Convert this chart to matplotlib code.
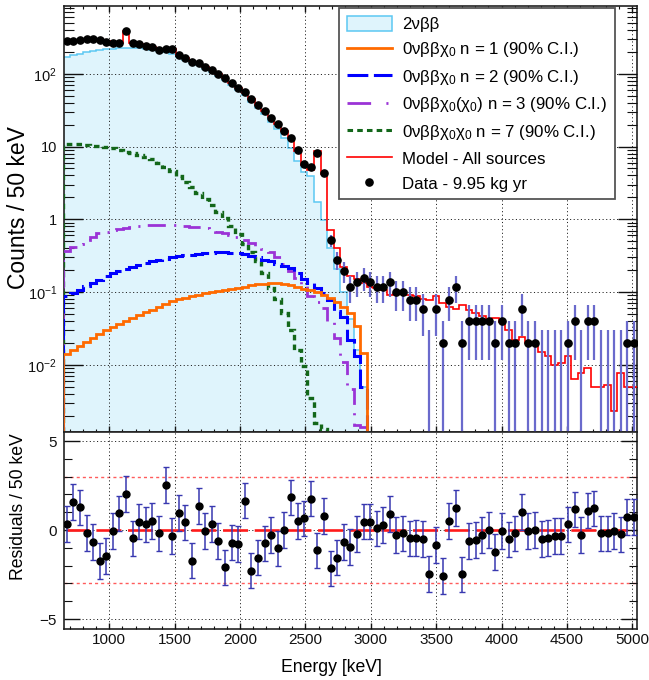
import numpy as np
import matplotlib
matplotlib.use('Agg')
import matplotlib.pyplot as plt
from matplotlib.ticker import FixedLocator, MultipleLocator, NullFormatter, FuncFormatter
from matplotlib.lines import Line2D
from matplotlib.patches import Patch

plt.rcParams['font.family'] = ['Liberation Sans', 'DejaVu Sans']
plt.rcParams['mathtext.fontset'] = 'custom'
plt.rcParams['mathtext.rm'] = 'Liberation Sans'
plt.rcParams['mathtext.it'] = 'Liberation Sans:italic'
plt.rcParams['lines.scale_dashes'] = False

# ---------------- binning ----------------
bin_lo, bin_width, n_bins = 648.6, 50.45, 87
edges = bin_lo + bin_width * np.arange(n_bins + 1)
centers = 0.5 * (edges[:-1] + edges[1:])

count_unit = 0.0197      # value of one event in "Counts / 50 keV"
zero_upper = 0.030       # upper error drawn for empty bins

# ---------------- data ----------------
data_vals = [282, 285, 292, 301, 298, 292, 276, 267, 267, 388,
             262, 254, 241, 236, 210, 219, 219, 181, 163, 147,
             139, 125, 113, 99, 87, 75, 63, 55.7, 44.6, 37.3,
             31.1, 24.9, 20.2, 16.5, 13.0, 8.97, 5.76, 5.29, 8.23, 4.37,
             0.512, 0.276, 0.197, 0.118, 0.138, 0.158, 0.138, 0.118, 0.118, 0.138,
             0.0985, 0.0985, 0.0788, 0.0788, 0.0591, 0.0, 0.0591, 0.0197, 0.0788, 0.118,
             0.0197, 0.0394, 0.0394, 0.0394, 0.0394, 0.0197, 0.0394, 0.0197, 0.0197, 0.0591,
             0.0197, 0.0197, 0.0, 0.0, 0.0, 0.0, 0.0197, 0.0394, 0.0, 0.0394,
             0.0394, 0.0, 0.0, 0.0, 0.0, 0.0197, 0.0197]

model_vals = [281, 284, 291, 300, 299, 295, 278, 268, 266, 384,
              263, 253, 240, 235, 210, 214, 220, 181, 163, 148,
              138, 125, 113, 99.5, 86.5, 75.5, 63.5, 55.3, 45.0, 37.5,
              31.2, 25.1, 20.3, 16.3, 12.9, 8.75, 5.54, 4.72, 8.69, 4.14,
              0.72, 0.40, 0.22, 0.165, 0.152, 0.135, 0.118, 0.112, 0.105, 0.092,
              0.095, 0.093, 0.090, 0.088, 0.080, 0.078, 0.087, 0.070, 0.063, 0.058,
              0.066, 0.056, 0.051, 0.047, 0.043, 0.0435, 0.039, 0.030, 0.022, 0.024,
              0.0198, 0.0198, 0.0152, 0.013, 0.010, 0.0106, 0.0133, 0.0063, 0.0078, 0.0089,
              0.0050, 0.0050, 0.0053, 0.0023, 0.0077, 0.0050, 0.0050]

two_nu = [172, 182, 190, 198, 205, 212, 218, 222, 225, 227,
          227, 225, 221, 215, 207, 199, 190, 172, 156, 141,
          131, 118, 106, 93, 81, 70, 59, 51, 41, 34,
          28, 22, 17.5, 13.0, 9.5, 6.3, 4.5, 3.9, 1.74, 0.98,
          0.40, 0.21, 0.10, 0.042, 0.016, 0.005]

n1_vals = [0.0141, 0.0158, 0.0182, 0.0204, 0.0234, 0.0263, 0.0302, 0.0335, 0.0367, 0.0398,
           0.0437, 0.0479, 0.0525, 0.0569, 0.0617, 0.0676, 0.0741, 0.0794, 0.0832, 0.0871,
           0.0912, 0.0955, 0.100, 0.1035, 0.107, 0.111, 0.115, 0.119, 0.123, 0.127,
           0.130, 0.132, 0.132, 0.129, 0.123, 0.116, 0.111, 0.106, 0.100, 0.091,
           0.082, 0.074, 0.063, 0.051, 0.034, 0.0145]

n2_vals = [0.087, 0.098, 0.108, 0.120, 0.133, 0.148, 0.164, 0.182, 0.195, 0.209,
           0.224, 0.237, 0.251, 0.266, 0.279, 0.288, 0.299, 0.309, 0.320, 0.327,
           0.335, 0.343, 0.348, 0.351, 0.351, 0.347, 0.341, 0.331, 0.316, 0.299,
           0.279, 0.263, 0.245, 0.229, 0.211, 0.180, 0.150, 0.132, 0.113, 0.096,
           0.078, 0.054, 0.046, 0.022, 0.013, 0.005]

n3_vals = [0.37, 0.41, 0.46, 0.52, 0.575, 0.64, 0.676, 0.716, 0.74, 0.767,
           0.794, 0.81, 0.822, 0.83, 0.836, 0.836, 0.834, 0.826, 0.81, 0.794,
           0.776, 0.75, 0.716, 0.676, 0.646, 0.61, 0.569, 0.525, 0.479, 0.427,
           0.39, 0.36, 0.30, 0.24, 0.195, 0.155, 0.12, 0.088, 0.074, 0.06,
           0.04, 0.0235, 0.011, 0.0047, 0.0015, 0.0014]

n7_vals = [10.8, 10.8, 10.7, 10.5, 10.3, 10.1, 9.8, 9.4, 9.0, 8.5,
           8.1, 7.65, 7.15, 6.65, 6.0, 5.3, 4.6, 3.9, 3.3, 2.75,
           2.3, 1.9, 1.55, 1.25, 1.05, 0.82, 0.62, 0.46, 0.36, 0.27,
           0.18, 0.115, 0.08, 0.052, 0.03, 0.016, 0.0095, 0.0035, 0.0016, 0.0013]

residuals = [0.34, 1.59, 1.27, -0.15, -0.66, -1.74, -1.46, -0.06, 0.94, 2.02,
             -0.47, 0.47, 0.32, 0.52, -0.19, 2.53, -0.32, 0.97, 0.43, -1.72,
             1.35, -0.06, 0.34, -0.60, -2.10, -0.71, -0.79, 1.65, -2.28, -1.55,
             -0.75, -0.28, -1.03, 0.00, 1.83, 0.52, 0.66, 1.77, -1.14, 0.80,
             -2.16, -1.55, -0.66, -0.94, -0.22, 0.47, 0.47, 0.09, 0.28, 0.90,
             -0.28, -0.19, -0.47, -0.43, -0.51, -2.47, -0.84, -2.58, 0.52, 1.25,
             -2.49, -0.60, -0.56, -0.28, 0.00, -1.22, -0.06, -0.52, -0.19, 1.03,
             -0.04, 0.00, -0.51, -0.43, -0.34, -0.34, 0.32, 1.16, -0.28, 1.09,
             1.22, -0.19, -0.19, -0.06, -0.24, 0.75, 0.75]
resid_err = 1.0

legend_labels = ['2\u03bd\u03b2\u03b2',
                 r'$\mathrm{0\nu\beta\beta\chi_0}$ n = 1 (90% C.I.)',
                 r'$\mathrm{0\nu\beta\beta\chi_0}$ n = 2 (90% C.I.)',
                 r'$\mathrm{0\nu\beta\beta\chi_0(\chi_0)}$ n = 3 (90% C.I.)',
                 r'$\mathrm{0\nu\beta\beta\chi_0\chi_0}$ n = 7 (90% C.I.)',
                 'Model - All sources',
                 'Data - 9.95 kg yr']

# ---------------- styles ----------------
c_fill, c_edge = '#dff4fc', '#5cc8f2'
c_n1, c_n2, c_n3, c_n7 = '#ff6a00', '#0000ff', '#9b33d6', '#13671a'
c_model = '#ff0000'
c_err_top, c_err_res = '#6a6acc', '#3838b0'
grid_kw = dict(color='#222222', lw=0.7, linestyle=(0, (0.8, 1.8)))

xlim = (653, 5036)
ylim_top = (1.19e-3, 855)
ylim_res = (-5.56, 5.51)
baseline = 1e-6

fig = plt.figure(figsize=(6.49, 6.80), dpi=100)
W, H = 649.0, 680.0
ax1 = fig.add_axes([64 / W, 1 - 432 / H, 573 / W, 426 / H])
ax2 = fig.add_axes([64 / W, 1 - 629 / H, 573 / W, 197 / H])

# ---------------- top panel ----------------
ax1.set_yscale('log')
d = np.array(data_vals)
m = np.array(model_vals)

ax1.stairs(two_nu, edges[:len(two_nu) + 1], baseline=baseline, fill=True,
           color=c_fill, zorder=1)
ax1.stairs(two_nu, edges[:len(two_nu) + 1], baseline=baseline, color=c_edge,
           lw=1.1, zorder=1.5)
ax1.stairs(n7_vals, edges[:len(n7_vals) + 1], baseline=baseline, color=c_n7,
           lw=2.4, linestyle=(0, (4.0, 3.0)), zorder=3)
ax1.stairs(n3_vals, edges[:len(n3_vals) + 1], baseline=baseline, color=c_n3,
           lw=2.0, linestyle=(0, (13, 6, 1.5, 6)), zorder=3.1)
ax1.stairs(n2_vals, edges[:len(n2_vals) + 1], baseline=baseline, color=c_n2,
           lw=2.2, linestyle=(0, (15, 4)), zorder=3.2)
ax1.stairs(n1_vals, edges[:len(n1_vals) + 1], baseline=baseline, color=c_n1,
           lw=2.0, zorder=3.3)
ax1.stairs(m, edges, baseline=None, color=c_model, lw=1.2, zorder=4)

pos = d > 0
err = np.sqrt(d * count_unit)
lo = np.where(d - err > 0, d - err, baseline)
hi = d + err
ax1.vlines(centers[pos], lo[pos], hi[pos], color=c_err_top, lw=1.6, zorder=5)
ax1.vlines(centers[~pos], baseline, zero_upper, color=c_err_top, lw=1.6, zorder=5)
ax1.plot(centers[pos], d[pos], 'o', color='k', ms=5.2, zorder=6)

ax1.set_xlim(*xlim)
ax1.set_ylim(*ylim_top)

ax1.xaxis.set_major_locator(MultipleLocator(500))
ax1.xaxis.set_minor_locator(MultipleLocator(100))
ax1.xaxis.set_major_formatter(NullFormatter())
ax1.yaxis.set_major_locator(FixedLocator([1e-2, 1e-1, 1, 10, 100]))
minor_y = [k * 10.0 ** e for e in range(-3, 3) for k in range(2, 10)]
ax1.yaxis.set_minor_locator(FixedLocator(minor_y))
ax1.yaxis.set_minor_formatter(NullFormatter())
ylab = {1e-2: '10$^{-2}$', 1e-1: '10$^{-1}$', 1: '1', 10: '10', 100: '10$^{2}$'}
ax1.yaxis.set_major_formatter(FuncFormatter(
    lambda v, p: min(ylab.items(), key=lambda kv: abs(np.log10(kv[0]) - np.log10(v)))[1]))

ax1.tick_params(axis='both', which='both', direction='in', top=True, right=True,
                colors='#111111')
ax1.tick_params(axis='x', which='major', length=4.5, width=1.0)
ax1.tick_params(axis='x', which='minor', length=2.2, width=0.8)
ax1.tick_params(axis='y', which='major', length=13.5, width=1.0, labelsize=10.5, pad=5)
ax1.tick_params(axis='y', which='minor', length=7, width=0.8)
ax1.set_axisbelow(False)
ax1.grid(True, which='major', **grid_kw)

# legend
handles = [Patch(facecolor=c_fill, edgecolor=c_edge, lw=1.1),
           Line2D([], [], color=c_n1, lw=2.0),
           Line2D([], [], color=c_n2, lw=2.2, linestyle=(0, (15, 4))),
           Line2D([], [], color=c_n3, lw=2.0, linestyle=(0, (17, 11, 1.5, 6))),
           Line2D([], [], color=c_n7, lw=2.2, linestyle=(0, (4.0, 3.0))),
           Line2D([], [], color=c_model, lw=1.2),
           Line2D([], [], color='k', marker='o', ms=5.2, linestyle='none')]
leg = ax1.legend(handles, legend_labels, loc='upper right',
                 bbox_to_anchor=((615 - 64) / 573, (432 - 8) / 426),
                 borderaxespad=0, fontsize=12.2, frameon=True, fancybox=False,
                 edgecolor='#555555', framealpha=1, handlelength=2.7,
                 handleheight=1.0, handletextpad=0.6, labelspacing=0.5,
                 borderpad=0.45)
leg.get_frame().set_linewidth(1.3)
leg.set_zorder(10)

# ---------------- residual panel ----------------
r = np.array(residuals)
ax2.axhline(3, color='#ff5c5c', lw=1.0, linestyle=(0, (2.2, 2.2)), zorder=2)
ax2.axhline(-3, color='#ff5c5c', lw=1.0, linestyle=(0, (2.2, 2.2)), zorder=2)
ax2.plot([centers[0], centers[-1]], [0, 0], color='#ff1a1a', lw=1.9,
         linestyle=(2, (18, 4.8)), zorder=3)
ax2.errorbar(centers, r, yerr=resid_err, fmt='o', color='k', ms=5.0,
             ecolor=c_err_res, elinewidth=1.1, capsize=2.0, capthick=1.0, zorder=5)

ax2.set_xlim(*xlim)
ax2.set_ylim(*ylim_res)
ax2.xaxis.set_major_locator(MultipleLocator(500))
ax2.xaxis.set_minor_locator(MultipleLocator(100))
ax2.xaxis.set_major_formatter(FuncFormatter(lambda v, p: '%d' % v))
ax2.yaxis.set_major_locator(FixedLocator([-5, 0, 5]))
ax2.yaxis.set_minor_locator(MultipleLocator(1))
ax2.tick_params(axis='both', which='both', direction='in', right=True,
                colors='#111111')
ax2.tick_params(axis='x', which='major', length=4.5, width=1.0, labelsize=11, pad=3)
ax2.tick_params(axis='x', which='minor', length=2.2, width=0.8)
ax2.tick_params(axis='y', which='major', length=11.5, width=1.0, labelsize=11, pad=5)
ax2.tick_params(axis='y', which='minor', length=6, width=0.8)
ax2.set_axisbelow(False)
ax2.grid(True, which='major', **grid_kw)

for ax in (ax1, ax2):
    for s in ax.spines.values():
        s.set_linewidth(1.2)
        s.set_color('#222222')

fig.text(18.5 / W, 1 - 208 / H, 'Counts / 50 keV', rotation=90, fontsize=16.5,
         ha='center', va='center')
fig.text(18.5 / W, 1 - 507 / H, 'Residuals / 50 keV', rotation=90, fontsize=12.7,
         ha='center', va='center')
fig.text(331 / W, 1 - 667 / H, 'Energy [keV]', fontsize=12.7, ha='center', va='center')

fig.savefig('out.png', dpi=100)
